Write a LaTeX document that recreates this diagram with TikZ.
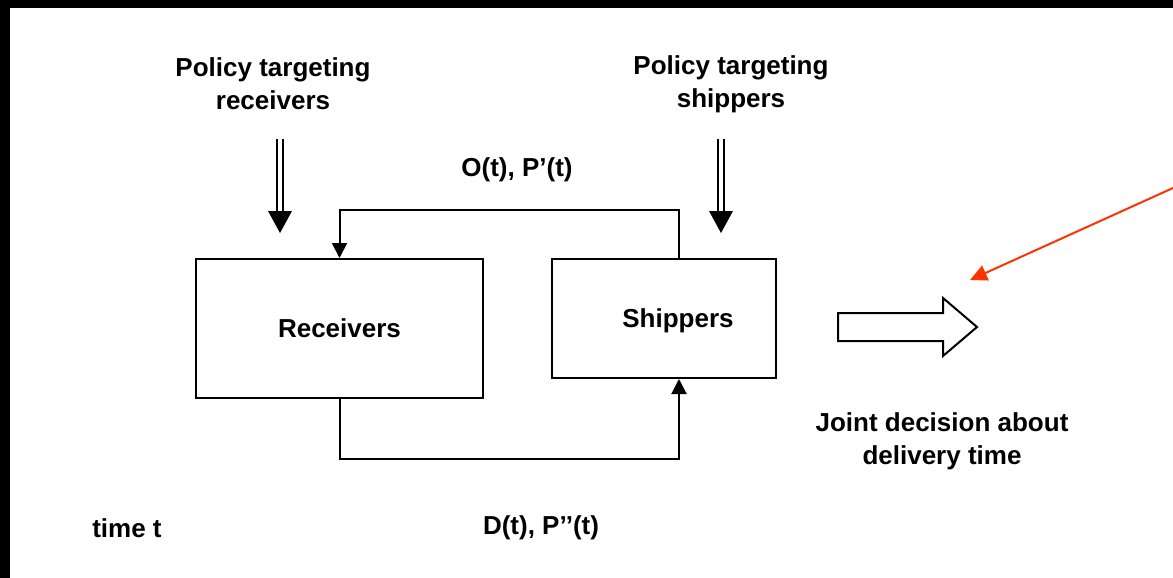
\documentclass[tikz,border=0pt]{standalone}
\usepackage{fontspec}
\setmainfont{Liberation Sans}
\usetikzlibrary{arrows.meta}
\definecolor{pointer}{RGB}{255,51,0}

\begin{document}
\begin{tikzpicture}[x=1pt, y=-1pt,
  every node/.style={font=\fontsize{26}{33}\selectfont\bfseries, align=center},
  box/.style={draw, line width=2pt, inner sep=0pt},
  flow/.style={line width=2pt, -{Triangle[length=15pt,width=15pt]}}]
\useasboundingbox (0,0) rectangle (1173,578);
\fill[black] (0,0) rectangle (10,578);
\fill[black] (0,0) rectangle (1173,8);

\node (polr) at (273,84) {Policy targeting\\receivers};
\node (pols) at (731,84) {Policy targeting\\shippers};

\node[box, minimum width=287pt, minimum height=139pt] (rec) at (339.5,328.5) {Receivers};
\node[box, minimum width=224pt, minimum height=119pt, label={[xshift=14pt,yshift=-2pt]center:Shippers}] (ship) at (664,318.5) {};

% policy arrows
\foreach \x in {280, 721} {
  \draw[line width=1.5pt] (\x-3,139) -- (\x-3,212) (\x+3,139) -- (\x+3,212);
  \fill (\x-12,211) -- (\x+12,211) -- (\x,233) -- cycle;
}

% loop between the two groups
\draw[flow] ([xshift=15pt]ship.north) -- ++(0,-48) -| (rec.north);
\draw[flow] (rec.south) -- ++(0,60) -| ([xshift=15pt]ship.south);
\node (ot) at (517,170) {O(t), P’(t)};
\node (dt) at (541,528) {D(t), P’’(t)};
\node (time) at (127,528) {time t};

\draw[line width=2pt, line join=miter] (838,313) -- (943,313) -- (943,298) -- (977,327) -- (943,356) -- (943,341) -- (838,341) -- cycle;
\node (joint) at (942,441) {Joint decision about\\delivery time};

\coordinate (redfrom) at (1173,188);
\coordinate (redto) at (970,280);
\draw[pointer, line width=2pt, -{Triangle[length=17pt,width=16pt]}] (redfrom) -- (redto);
\end{tikzpicture}
\end{document}
